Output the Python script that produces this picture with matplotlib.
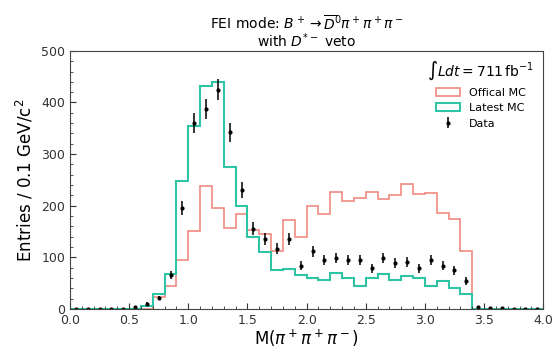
import numpy as np
import matplotlib.pyplot as plt
from matplotlib.patches import Patch
from matplotlib.ticker import AutoMinorLocator

# bin edges 0.0 .. 4.0 in steps of 0.1
edges = np.round(np.arange(0, 4.01, 0.1), 2)
centers = (edges[:-1] + edges[1:]) / 2

offical_mc = [0, 0, 0, 0, 0, 0, 0, 23, 45, 94,
              151, 239, 196, 157, 183, 153, 146, 112, 172, 140,
              200, 183, 226, 210, 214, 227, 213, 221, 242, 223,
              225, 186, 175, 112, 0, 0, 0, 0, 0, 0]

latest_mc = [0, 0, 0, 0, 0, 0, 5, 29, 68, 248,
             355, 432, 440, 275, 200, 140, 110, 75, 78, 65,
             60, 56, 69, 60, 45, 60, 68, 56, 63, 60,
             45, 54, 41, 29, 0, 0, 0, 0, 0, 0]

data = [0, 0, 0, 0, 0, 3, 10, 21, 66, 196,
        360, 388, 425, 342, 230, 155, 135, 117, 136, 84,
        112, 94, 99, 94, 94, 79, 99, 89, 91, 79,
        94, 84, 75, 54, 3, 1, 1, 0, 0, 0]

red = '#f08a80'
teal = '#2ec4a4'

fig = plt.figure(figsize=(5.6, 3.51), dpi=100)
ax = fig.add_axes([0.125, 0.12, 0.845, 0.735])

ax.stairs(offical_mc, edges, color=red, lw=1.2)
ax.stairs(latest_mc, edges, color=teal, lw=1.5)
ax.errorbar(centers, data, yerr=np.sqrt(data), fmt='o', color='k',
            ms=2, elinewidth=1.1, capsize=0)

ax.set_xlim(0, 4)
ax.set_ylim(0, 500)
ax.xaxis.set_minor_locator(AutoMinorLocator(5))
ax.yaxis.set_minor_locator(AutoMinorLocator(5))
ax.tick_params(which='both', direction='in', labelsize=9, colors='#333333')
ax.tick_params(which='major', length=4)
ax.tick_params(which='minor', length=2)
for s in ax.spines.values():
    s.set_color('#444444')

ax.set_xlabel(r'M($\pi^+\pi^+\pi^-$)', fontsize=12, labelpad=1)
ax.set_ylabel(r'Entries / 0.1 GeV/c$^2$', fontsize=12)
ax.set_title('FEI mode: $B^+ \\rightarrow \\overline{D}^0\\pi^+\\pi^+\\pi^-$\nwith $D^{*-}$ veto',
             fontsize=10, linespacing=0.95, pad=3)

handles = [Patch(facecolor='none', edgecolor=red, lw=1.2),
           Patch(facecolor='none', edgecolor=teal, lw=1.5),
           ax.errorbar([], [], yerr=[], fmt='o', color='k', ms=2, elinewidth=1.1)]
leg = ax.legend(handles, ['Offical MC', 'Latest MC', 'Data'], loc='upper right',
                title=r'$\int L dt = 711\,\mathrm{fb}^{-1}$', title_fontsize=10,
                fontsize=8, frameon=False, handlelength=2.2, borderaxespad=0.4)

fig.savefig('out.png', dpi=100)
